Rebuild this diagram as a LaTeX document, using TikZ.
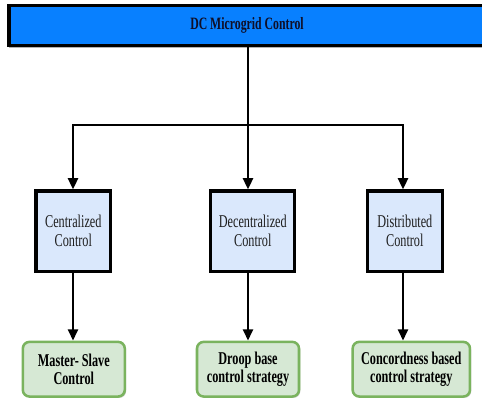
\documentclass[tikz,border=0pt]{standalone}
\usepackage{fontspec}
\newfontfamily\cf[FakeStretch=0.68]{Liberation Serif}
\usetikzlibrary{arrows.meta,shadows}
\begin{document}
\begin{tikzpicture}[x=0.75pt,y=-0.75pt,
  txt/.style={font=\cf\fontsize{13.5pt}{14.25pt}\selectfont, align=center, inner sep=0pt},
  topbox/.style={txt, draw=black, line width=2.3pt, fill={rgb,255:red,8;green,128;blue,255},
    text={rgb,255:red,15;green,15;blue,40}, font=\cf\bfseries\fontsize{13pt}{14pt}\selectfont,
    drop shadow={shadow xshift=0pt, shadow yshift=-1.6pt, fill=gray!60, opacity=1}},
  midbox/.style={txt, draw=black, line width=2.3pt, fill={rgb,255:red,218;green,232;blue,252},
    text={rgb,255:red,30;green,30;blue,30},
    drop shadow={shadow xshift=1pt, shadow yshift=-1pt, fill=gray!40, opacity=1}},
  botbox/.style={txt, draw={rgb,255:red,122;green,179;blue,94}, line width=1.9pt, rounded corners=5pt,
    fill={rgb,255:red,214;green,232;blue,212}, text=black, font=\cf\bfseries\fontsize{13.5pt}{13.5pt}\selectfont,
    drop shadow={shadow xshift=1pt, shadow yshift=-1pt, fill=gray!35, opacity=1}},
  conn/.style={line width=1.9pt, black},
  arr/.style={conn, -{Triangle[width=7.5pt,length=8.5pt]}}
]
\useasboundingbox (0,0) rectangle (482,400);
\node[topbox, minimum width=357pt, minimum height=30.5pt] (top) at (247,25.5) {DC Microgrid Control};

\node[midbox, minimum width=56pt, minimum height=60.5pt] (cen) at (73.3,231.3) {Centralized\\Control};
\node[midbox, minimum width=63pt, minimum height=60.5pt] (dec) at (252.8,231.3) {Decentralized\\Control};
\node[midbox, minimum width=56.5pt, minimum height=60.5pt] (dis) at (404.8,231.3) {Distributed\\Control};

\node[botbox, minimum width=76.5pt, minimum height=41pt] (ms) at (73.8,369.2) {Master- Slave\\Control};
\node[botbox, minimum width=76.5pt, minimum height=41pt] (dr) at (248,369.2) {Droop base\\control strategy};
\node[botbox, minimum width=88pt, minimum height=41pt] (co) at (411.3,369.2) {Concordness based\\control strategy};

\coordinate (j) at (248,125);
\coordinate (jl) at (73,125);
\coordinate (jr) at (403,125);
\draw[conn] (top.south -| j) -- (j);
\draw[conn, line cap=rect] (jl) -- (jr);
\draw[arr] (jl) -- (jl |- cen.north);
\draw[arr] (j) -- (j |- dec.north);
\draw[arr] (jr) -- (jr |- dis.north);

\draw[arr] (cen.south -| jl) -- (jl |- ms.north);
\draw[arr] (dec.south -| j) -- (j |- dr.north);
\draw[arr] (dis.south -| jr) -- (jr |- co.north);
\end{tikzpicture}
\end{document}
